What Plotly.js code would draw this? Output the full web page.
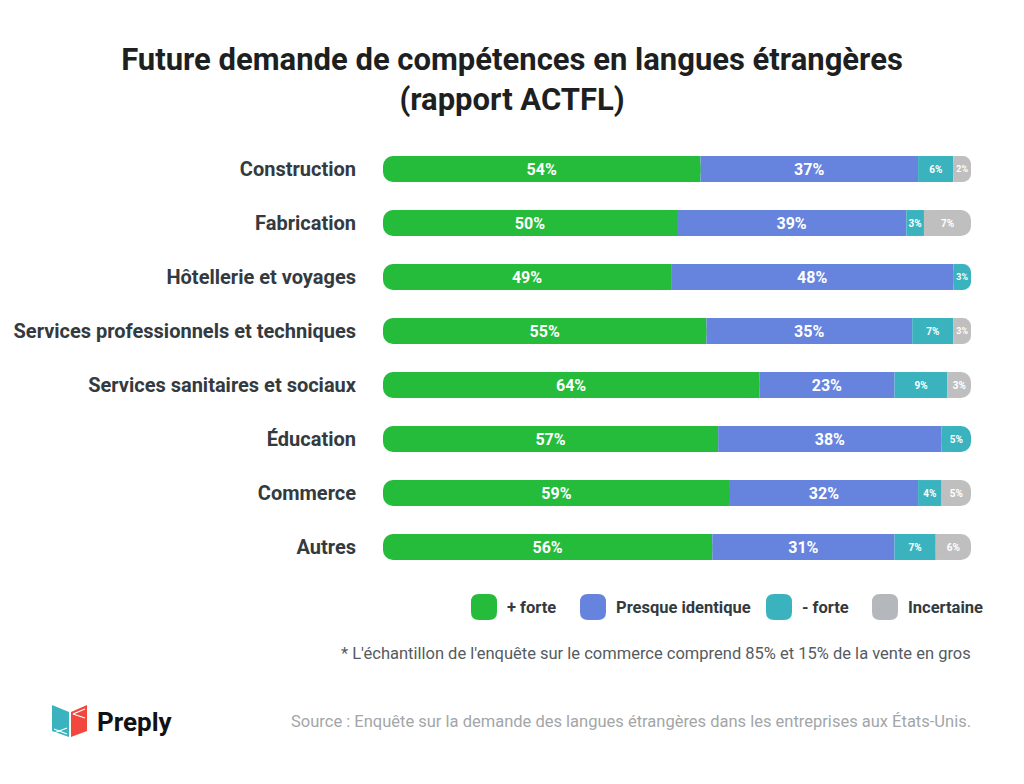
<!DOCTYPE html>
<html>
<head>
<meta charset="utf-8">
<script src="https://cdn.plot.ly/plotly-3.0.1.min.js"></script>
<style>
html,body{margin:0;padding:0;background:#fff;}
#chart{width:1024px;height:784px;}
</style>
</head>
<body>
<div id="chart"></div>
<script>
// ---- Data ----
const categories = ['Construction','Fabrication','Hôtellerie et voyages','Services professionnels et techniques','Services sanitaires et sociaux','Éducation','Commerce','Autres'];
const forte      = [54, 50, 49, 55, 64, 57, 59, 56];
const identique  = [37, 39, 48, 35, 23, 38, 32, 31];
const moinsForte = [ 6,  3,  3,  7,  9,  5,  4,  7];
const incertaine = [ 2,  7,  0,  3,  3,  0,  5,  6];
const seriesNames = ['+ forte','Presque identique','- forte','Incertaine'];
const titleText = 'Future demande de compétences en langues étrangères<br>(rapport ACTFL)';
const footnote = "* L'échantillon de l'enquête sur le commerce comprend 85% et 15% de la vente en gros";
const sourceText = 'Source : Enquête sur la demande des langues étrangères dans les entreprises aux États-Unis.';

// ---- Styles ----
const colors = ['#25BB3B','#6683DE','#3AB3BE','#BFBFBF'];
const legendColors = ['#25BB3B','#6683DE','#3AB3BE','#B4B8BC'];
const labelSizes = [16, 16, 10, 10];
const FONT = 'Roboto, "Open Sans", sans-serif';
const RADIUS = 10;

const series = [forte, identique, moinsForte, incertaine];
const n = categories.length;

// per-row segment geometry
const rows = categories.map((c, i) => {
  const vals = series.map(s => s[i]);
  const starts = [];
  let acc = 0;
  vals.forEach(v => { starts.push(acc); acc += v; });
  let last = 0;
  vals.forEach((v, k) => { if (v > 0) last = k; });
  return {vals, starts, last};
});

const traces = [];
// square body segments
series.forEach((s, k) => {
  const base = [], x = [], text = [];
  rows.forEach(r => {
    const v = r.vals[k], st = r.starts[k];
    if (v <= 0) { base.push(0); x.push(null); text.push(''); return; }
    if (k === 0) { base.push(st + v / 2); x.push(v / 2); text.push(''); }
    else if (k === r.last) { const L = 100 - st; base.push(st); x.push(L / 2); text.push(''); }
    else { base.push(st); x.push(v); text.push(v + '%'); }
  });
  traces.push({
    type: 'bar', orientation: 'h', y: categories, x: x, base: base,
    width: 0.48, marker: {color: colors[k], line: {width: 0}},
    text: text, textposition: 'inside', insidetextanchor: 'middle', textangle: 0,
    constraintext: 'none',
    textfont: {family: FONT, size: labelSizes[k], color: '#ffffff', weight: 700},
    hoverinfo: 'skip', showlegend: false, name: seriesNames[k]
  });
});
// left rounded cap (drawn from the green end back to 0 so the far end at 0 is rounded)
traces.push({
  type: 'bar', orientation: 'h', y: categories,
  base: forte, x: forte.map(v => -v),
  width: 0.48, marker: {color: colors[0], cornerradius: RADIUS, line: {width: 0}},
  text: forte.map(v => v + '%'), textposition: 'inside', insidetextanchor: 'middle', textangle: 0,
  constraintext: 'none',
  textfont: {family: FONT, size: labelSizes[0], color: '#ffffff', weight: 700},
  hoverinfo: 'skip', showlegend: false
});
// right rounded cap (last non-empty segment of each row, filling the track)
traces.push({
  type: 'bar', orientation: 'h', y: categories,
  base: rows.map(r => r.starts[r.last]),
  x: rows.map(r => 100 - r.starts[r.last]),
  width: 0.48,
  marker: {color: rows.map(r => colors[r.last]), cornerradius: RADIUS, line: {width: 0}},
  text: rows.map(r => r.vals[r.last] + '%'), textposition: 'inside', insidetextanchor: 'middle', textangle: 0,
  constraintext: 'none',
  textfont: {family: FONT, size: rows.map(r => labelSizes[r.last]), color: '#ffffff', weight: 700},
  hoverinfo: 'skip', showlegend: false
});

// pixel -> paper helpers
const PL = 383, PR = 971, PT = 142, PB = 574;
const X = px => (px - PL) / (PR - PL);
const Y = py => (PB - py) / (PB - PT);
function rrect(x0, y0, x1, y1, r) {
  return `M ${X(x0 + r)},${Y(y0)} L ${X(x1 - r)},${Y(y0)} Q ${X(x1)},${Y(y0)} ${X(x1)},${Y(y0 + r)} ` +
         `L ${X(x1)},${Y(y1 - r)} Q ${X(x1)},${Y(y1)} ${X(x1 - r)},${Y(y1)} ` +
         `L ${X(x0 + r)},${Y(y1)} Q ${X(x0)},${Y(y1)} ${X(x0)},${Y(y1 - r)} ` +
         `L ${X(x0)},${Y(y0 + r)} Q ${X(x0)},${Y(y0)} ${X(x0 + r)},${Y(y0)} Z`;
}
function poly(pts) {
  return 'M ' + pts.map(p => X(p[0]) + ',' + Y(p[1])).join(' L ') + ' Z';
}

const shapes = [];
const annotations = [];
const legendX = [471, 580, 766, 872];
seriesNames.forEach((nm, k) => {
  shapes.push({type: 'path', xref: 'paper', yref: 'paper', path: rrect(legendX[k], 594, legendX[k] + 26, 620, 8),
    fillcolor: legendColors[k], line: {width: 0}});
  annotations.push({xref: 'paper', yref: 'paper', x: X(legendX[k] + 34), y: Y(607), xanchor: 'left', yanchor: 'middle',
    text: nm, showarrow: false, font: {family: FONT, size: 16.5, color: '#333a40', weight: 700}});
});
annotations.push({xref: 'paper', yref: 'paper', x: X(973), y: Y(653), xanchor: 'right', yanchor: 'middle',
  text: footnote, showarrow: false, font: {family: FONT, size: 16.5, color: '#555b60'}});
annotations.push({xref: 'paper', yref: 'paper', x: X(973), y: Y(721), xanchor: 'right', yanchor: 'middle',
  text: sourceText, showarrow: false, font: {family: FONT, size: 16.5, color: '#a3a6a9'}});
annotations.push({xref: 'paper', yref: 'paper', x: X(95), y: Y(722), xanchor: 'left', yanchor: 'middle',
  text: 'Preply', showarrow: false, font: {family: FONT, size: 26, color: '#121212', weight: 700}});

// Preply logo
shapes.push({type: 'path', xref: 'paper', yref: 'paper', path: poly([[52,705],[69,712],[69,737],[52,731]]), fillcolor: '#3AB3BE', line: {width: 0}});
shapes.push({type: 'path', xref: 'paper', yref: 'paper', path: poly([[71,712],[87,705],[87,731],[71,737]]), fillcolor: '#F2473F', line: {width: 0}});
shapes.push({type: 'path', xref: 'paper', yref: 'paper', path: 'M ' + X(54) + ',' + Y(729) + ' L ' + X(67) + ',' + Y(734), line: {color: '#ffffff', width: 1.2}});
shapes.push({type: 'path', xref: 'paper', yref: 'paper', path: 'M ' + X(54) + ',' + Y(733) + ' L ' + X(67) + ',' + Y(728), line: {color: '#ffffff', width: 1.2}});
shapes.push({type: 'path', xref: 'paper', yref: 'paper', path: 'M ' + X(73) + ',' + Y(714) + ' L ' + X(85) + ',' + Y(709), line: {color: '#ffffff', width: 1.2}});
shapes.push({type: 'path', xref: 'paper', yref: 'paper', path: 'M ' + X(73) + ',' + Y(714) + ' L ' + X(85) + ',' + Y(718), line: {color: '#ffffff', width: 1.2}});

const layout = {
  width: 1024, height: 784,
  paper_bgcolor: '#ffffff', plot_bgcolor: '#ffffff',
  margin: {l: PL, r: 1024 - PR, t: PT, b: 784 - PB, pad: 0},
  barmode: 'overlay',
  showlegend: false,
  title: {text: titleText, xref: 'container', x: 0.5, xanchor: 'center', yref: 'container', y: 1 - 70 / 784, yanchor: 'middle',
    font: {family: FONT, size: 31, color: '#1d1f21', weight: 700}},
  xaxis: {range: [0, 100], visible: false, fixedrange: true},
  yaxis: {type: 'category', categoryorder: 'array', categoryarray: categories, autorange: false, range: [n - 0.5, -0.5],
    showgrid: false, zeroline: false, showline: false,
    ticks: 'outside', ticklen: 22, tickcolor: 'rgba(0,0,0,0)',
    tickfont: {family: FONT, size: 20, color: '#333a40', weight: 700}},
  shapes: shapes,
  annotations: annotations
};

Plotly.newPlot('chart', traces, layout, {staticPlot: true, displayModeBar: false});
</script>
</body>
</html>
